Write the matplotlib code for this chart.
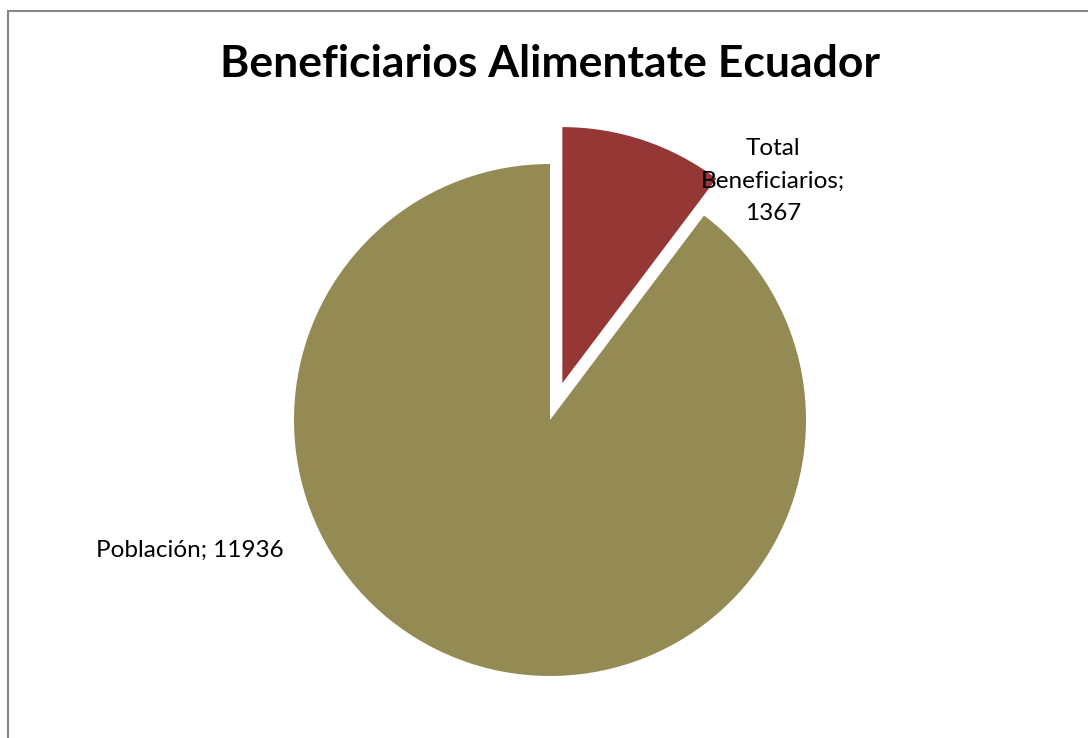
import matplotlib.pyplot as plt
from matplotlib.patches import Rectangle

# data
categories = ['Total\nBeneficiarios', 'Población']
values = [1367, 11936]
colors = ['#953735', '#948A54']
explode = [0.152, 0]
title = 'Beneficiarios Alimentate Ecuador'

plt.rcParams['font.family'] = ['Lato', 'DejaVu Sans']

W, H = 1088, 738
fig = plt.figure(figsize=(W / 100, H / 100), dpi=100)

# marco gris del gráfico
fig.patches.append(Rectangle((7.5 / W, -0.05), 1.2, 1 - 10.5 / H + 0.05,
                             transform=fig.transFigure, fill=False,
                             edgecolor='#868686', linewidth=1.5))

# pastel centrado en (550, 420) px, radio 256 px
cx, cy, r = 550, 420, 256
half = 320
ax = fig.add_axes([(cx - half) / W, (H - cy - half) / H, 2 * half / W, 2 * half / H])
wedges, _ = ax.pie(values, colors=colors, startangle=90, counterclock=False,
                   explode=explode, radius=1, wedgeprops=dict(linewidth=0))
ax.set_xlim(-half / r, half / r)
ax.set_ylim(-half / r, half / r)
ax.set_aspect('equal')
ax.axis('off')

# etiquetas de datos
labels = [f'{c};\n{v}' if '\n' in c else f'{c}; {v}' for c, v in zip(categories, values)]
label_pos = [(773, 181), (190, 550)]
for lab, (px, py) in zip(labels, label_pos):
    fig.text(px / W, 1 - py / H, lab, ha='center', va='center', fontsize=17.5,
             linespacing=1.7, color='black')

fig.text(550 / W, 1 - 64 / H, title, ha='center', va='center', fontsize=32,
         fontweight='bold')

fig.savefig('out.png', dpi=100)
